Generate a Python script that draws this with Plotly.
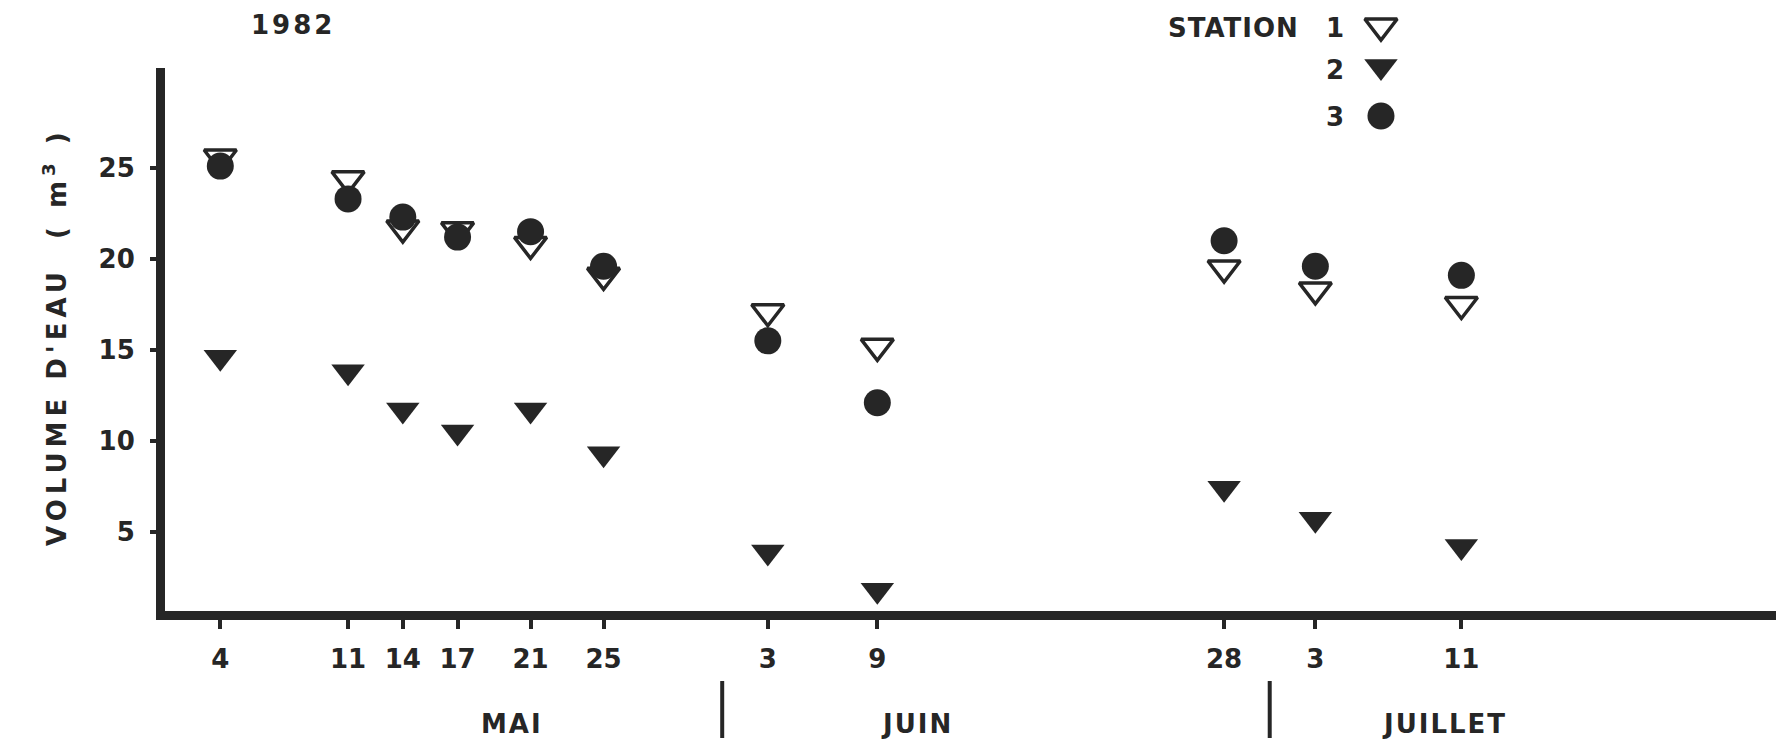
import plotly.graph_objects as go

# Sampling dates, counted in days from 1 May 1982 (May 4 -> 4, June 3 -> 34, July 3 -> 64)
sample_days = [4, 11, 14, 17, 21, 25, 34, 40, 59, 64, 72]
day_labels = ["4", "11", "14", "17", "21", "25", "3", "9", "28", "3", "11"]

# Water volume (m3) per station
station_1 = [25.6, 24.4, 21.7, 21.6, 20.8, 19.1, 17.1, 15.2, 19.5, 18.3, 17.5]
station_2 = [14.6, 13.8, 11.7, 10.5, 11.7, 9.3, 3.9, 1.8, 7.4, 5.7, 4.2]
station_3 = [25.1, 23.3, 22.3, 21.2, 21.5, 19.6, 15.5, 12.1, 21.0, 19.6, 19.1]

y_ticks = [5, 10, 15, 20, 25]
months = ["MAI", "JUIN", "JUILLET"]
month_ends = [31.5, 61.5]
station_names = ["1", "2", "3"]

INK = "#262626"
FONT = "DejaVu Sans"

open_tri = dict(symbol="triangle-down", size=28, color="white",
                line=dict(color=INK, width=3.5))
full_tri = dict(symbol="triangle-down", size=29, color=INK,
                line=dict(color=INK, width=0))
dot = dict(symbol="circle", size=27, color=INK, line=dict(color=INK, width=0))

fig = go.Figure()

for vals, style in zip([station_1, station_2, station_3], [open_tri, full_tri, dot]):
    fig.add_trace(go.Scatter(
        x=sample_days, y=vals, mode="markers", marker=style,
        cliponaxis=False, showlegend=False,
    ))

# Legend keys on an overlay axis spanning the whole paper height (0..1)
key_x = [0.7548, 0.7548, 0.7548]
key_y = [0.9574, 0.8913, 0.8101]
for kx, ky, style in zip(key_x, key_y, [open_tri, full_tri, dot]):
    fig.add_trace(go.Scatter(
        x=[kx], y=[ky], mode="markers", marker=style,
        xaxis="x2", yaxis="y2", cliponaxis=False, showlegend=False,
        hoverinfo="skip",
    ))


def txt(s, x, y, xref="paper", yref="paper", spacing=0, **kw):
    if spacing:
        s = f"<span style='letter-spacing:{spacing}px'>{s}</span>"
    return dict(text=s, x=x, y=y, xref=xref, yref=yref, showarrow=False,
                xanchor=kw.pop("xanchor", "center"), yanchor="middle",
                font=dict(family=FONT, size=kw.pop("size", 26), color=INK, weight="bold"),
                **kw)


annotations = [
    txt("1982", 0.0795, 0.9591, spacing=3),
    txt("STATION", 0.7052, 0.9542, spacing=1, xanchor="right"),
]
for lab, ly in zip(station_names, [0.9542, 0.8854, 0.8085]):
    annotations.append(txt(lab, 0.7263, ly))

for m, mx in zip(months, [20.0, 42.2, 71.1]):
    annotations.append(txt(m, mx, -0.1849, xref="x", spacing=2))

annotations.append(txt("VOLUME D'EAU  ( m<sup>3</sup> )", -0.0683, 0.4501,
                       spacing=5, textangle=-90))

shapes = [
    dict(type="line", xref="x", yref="paper", x0=me, x1=me, y0=-0.1146, y1=-0.2079,
         line=dict(color=INK, width=4))
    for me in month_ends
]

tick_font = dict(family=FONT, size=26, color=INK, weight="bold")

fig.update_layout(
    width=1785, height=752,
    margin=dict(l=165, r=9, t=0, b=141),
    paper_bgcolor="white", plot_bgcolor="rgba(0,0,0,0)",
    showlegend=False,
    annotations=annotations,
    shapes=shapes,
    xaxis=dict(
        range=[0.97, 89.24], showgrid=False, zeroline=False,
        showline=True, linewidth=9, linecolor=INK,
        tickmode="array", tickvals=sample_days, ticktext=day_labels,
        ticks="outside", ticklen=9, tickwidth=4, tickcolor=INK,
        tickfont=tick_font, ticklabelstandoff=8,
    ),
    yaxis=dict(
        domain=[0, 543 / 611],
        range=[0.66, 30.49], showgrid=False, zeroline=False,
        showline=True, linewidth=9, linecolor=INK,
        tickmode="array", tickvals=y_ticks,
        ticks="outside", ticklen=6, tickwidth=4, tickcolor=INK,
        tickfont=tick_font, ticklabelstandoff=10,
    ),
    xaxis2=dict(range=[0, 1], overlaying="x", visible=False),
    yaxis2=dict(domain=[0, 1], range=[0, 1], anchor="x2", visible=False),
)

fig.write_html("out.html")
